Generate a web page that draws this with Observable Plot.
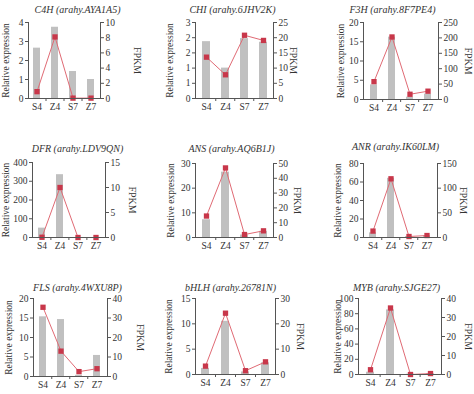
<!DOCTYPE html>
<html>
<head>
<meta charset="utf-8">
<script src="https://cdn.jsdelivr.net/npm/d3@7"></script>
<script src="https://cdn.jsdelivr.net/npm/@observablehq/plot@0.6"></script>
<style>
  html, body { margin: 0; padding: 0; background: #fff; }
  #chart { position: relative; width: 474px; height: 394px; background: #fff; overflow: hidden; }
  #chart svg { position: absolute; left: 0; top: 0; }
</style>
</head>
<body>
<div id="chart"></div>
<script>
// ---- data ----
const categories = ["S4", "Z4", "S7", "Z7"];
const genes = ["C4H", "CHI", "F3H", "DFR", "ANS", "ANR", "FLS", "bHLH", "MYB"];
const geneIds = ["arahy.AYA1A5", "arahy.6JHV2K", "arahy.8F7PE4", "arahy.LDV9QN", "arahy.AQ6B1J", "arahy.IK60LM", "arahy.4WXU8P", "arahy.26781N", "arahy.SJGE27"];
const relExpr = [
  [2.65, 3.75, 1.42, 1.0],
  [1.87, 1.0, 1.97, 1.85],
  [3.8, 16.2, 0.6, 1.4],
  [50, 335, 0, 0],
  [7.2, 26.5, 1.0, 2.5],
  [5, 64, 1, 2],
  [15.3, 14.6, 0.3, 5.4],
  [1.2, 10.5, 0.5, 2.3],
  [3, 85, 0.3, 1]
];
const fpkm = [
  [0.9, 8.1, 0.05, 0.05],
  [13.6, 7.8, 20.8, 19.1],
  [58, 203, 17, 27],
  [0.05, 10, 0, 0],
  [14.5, 47, 2, 4.5],
  [13, 119, 2, 4],
  [35.5, 13, 2.5, 4],
  [3.3, 24.2, 1.5, 5],
  [2.5, 35, 0, 0.5]
];
const leftTicks = [
  [0, 1, 2, 3, 4],
  [0, 0.5, 1, 1.5, 2, 2.5],
  [0, 5, 10, 15, 20],
  [0, 100, 200, 300, 400],
  [0, 10, 20, 30],
  [0, 20, 40, 60, 80],
  [0, 5, 10, 15, 20],
  [0, 5, 10, 15],
  [0, 20, 40, 60, 80, 100]
];
const rightTicks = [
  [0, 2, 4, 6, 8, 10],
  [0, 5, 10, 15, 20, 25],
  [0, 50, 100, 150, 200, 250],
  [0, 5, 10, 15],
  [0, 10, 20, 30, 40, 50],
  [0, 50, 100, 150],
  [0, 10, 20, 30, 40],
  [0, 10, 20, 30],
  [0, 10, 20, 30, 40]
];

// ---- layout (pixel positions of each panel) ----
// [plotLeft, plotRight, plotTop, plotBottom, titleCenterX, titleY, yLabelX, fpkmLabelX]
const layout = [
  [28, 100, 22, 98, 77, 5, 5, 137],
  [195, 273, 22, 98, 232, 5, 169, 293],
  [363, 438, 22, 99, 392, 5, 340, 468],
  [32, 105, 162, 237, 77, 144, 5, 132],
  [195, 273, 163, 237, 231, 144, 170, 297],
  [363, 437, 163, 237, 395, 142, 337, 463],
  [33, 107, 298, 376, 77, 283, 8, 140],
  [195, 275, 298, 374, 230, 283, 168, 300],
  [358, 441, 298, 374, 396, 283, 337, 468]
];

const W = 474, H = 394;
const axisColor = "#555";
const barColor = "#c0c0c0";
const lineColor = "#e06a74";
const markColor = "#c8374a";
const pInner = 0.6, pOuter = 0.3;
const serif = "'Liberation Serif', 'Times New Roman', Times, serif";

const chart = document.getElementById("chart");

genes.forEach((g, i) => {
  const [L, R, T, B, tx, ty, ylx, fx] = layout[i];
  const leftMax = leftTicks[i][leftTicks[i].length - 1];
  const rightMax = rightTicks[i][rightTicks[i].length - 1];
  const k = leftMax / rightMax;
  const rows = categories.map((c, j) => ({cat: c, rel: relExpr[i][j], fp: fpkm[i][j] * k}));
  const pw = R - L, ph = B - T;
  const step = pw / (categories.length - pInner + 2 * pOuter);
  const tickLen = leftMax * 3 / ph;

  const svg = Plot.plot({
    width: W,
    height: H,
    marginLeft: L,
    marginRight: W - R,
    marginTop: T,
    marginBottom: H - B,
    style: {background: "transparent", fontFamily: serif, fontSize: "9.5px", color: "#333", overflow: "visible"},
    x: {type: "band", domain: categories, paddingInner: pInner, paddingOuter: pOuter},
    y: {domain: [0, leftMax]},
    marks: [
      Plot.barY(rows, {x: "cat", y: "rel", fill: barColor}),
      Plot.lineY(rows, {x: "cat", y: "fp", stroke: lineColor, strokeWidth: 1}),
      Plot.dot(rows, {x: "cat", y: "fp", symbol: "square", r: 3, fill: markColor}),
      Plot.ruleY([0], {stroke: axisColor}),
      Plot.ruleX(categories.slice(1), {x: d => d, dx: -step / 2, y1: 0, y2: -tickLen, stroke: axisColor}),
      Plot.frame({anchor: "left", stroke: axisColor}),
      Plot.frame({anchor: "right", stroke: axisColor}),
      Plot.axisY(leftTicks[i], {anchor: "left", tickSize: 3, tickPadding: 2, label: null, stroke: axisColor}),
      Plot.axisY(rightTicks[i].map(t => t * k), {anchor: "right", tickSize: 3, tickPadding: 2, label: null, stroke: axisColor, tickFormat: d => String(+(d / k).toFixed(3))}),
      Plot.axisX({tickSize: 0, tickPadding: 5, label: null}),
      Plot.text([`${g} (${geneIds[i]})`], {text: d => d, frameAnchor: "top-left", dx: tx - L, dy: ty - T, textAnchor: "middle", fontStyle: "italic", fontSize: 10, fill: "#333"}),
      Plot.text(["Relative expression"], {text: d => d, frameAnchor: "left", dx: ylx - L, rotate: -90, textAnchor: "middle", fontSize: 9.5, fill: "#333"}),
      Plot.text(["FPKM"], {text: d => d, frameAnchor: "right", dx: fx - R, rotate: 90, textAnchor: "middle", fontSize: 10, fill: "#333"})
    ]
  });
  chart.appendChild(svg);
});
</script>
</body>
</html>
